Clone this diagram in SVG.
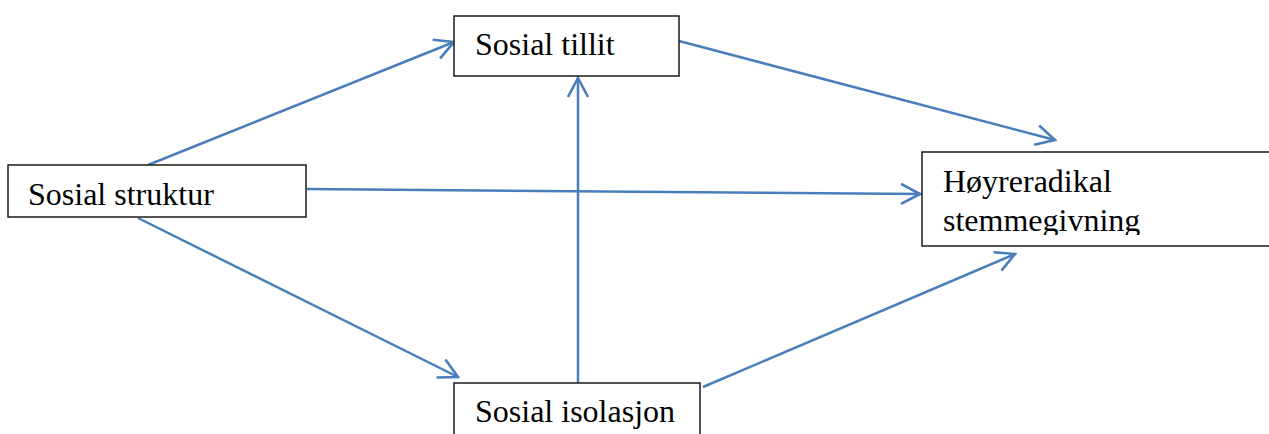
<svg xmlns="http://www.w3.org/2000/svg" width="1269" height="434" viewBox="0 0 1269 434">
<style>
.box{fill:#fff;stroke:#1a1a1a;stroke-width:1.5}
.lbl{font-family:"Liberation Serif","Times New Roman",serif;font-size:32px;fill:#000}
.conn{stroke:#4a7ebb;stroke-width:2.5;fill:none;marker-end:url(#ah)}
</style>
<defs>
<marker id="ah" markerUnits="userSpaceOnUse" viewBox="-22 -12 24 24" refX="0" refY="0" markerWidth="24" markerHeight="24" orient="auto">
<path d="M-19,-10 L0,0 L-19,10" fill="none" stroke="#4a7ebb" stroke-width="2.6"/>
</marker>
<clipPath id="hclip"><rect x="922" y="152" width="350" height="83"/></clipPath>
</defs>
<rect width="1269" height="434" fill="#fff"/>
<g id="connectors">
<line class="conn" x1="148" y1="165" x2="454" y2="42"/>
<line class="conn" x1="307" y1="189" x2="920" y2="194"/>
<line class="conn" x1="138" y1="218" x2="458" y2="377"/>
<line class="conn" x1="578" y1="383" x2="578" y2="78"/>
<line class="conn" x1="679" y1="41" x2="1055" y2="140"/>
<line class="conn" x1="703" y1="387" x2="1015" y2="254"/>
</g>
<g id="node-tillit">
<rect class="box" x="454" y="16" width="225" height="60"/>
<text class="lbl" x="475" y="55">Sosial tillit</text>
</g>
<g id="node-struktur">
<rect class="box" x="8" y="165" width="298" height="52"/>
<text class="lbl" x="28" y="205">Sosial struktur</text>
</g>
<g id="node-hoyre">
<rect class="box" x="922" y="152" width="360" height="94"/>
<g clip-path="url(#hclip)">
<text class="lbl" x="943" y="192">Høyreradikal</text>
<text class="lbl" x="943" y="231">stemmegivning</text>
</g>
</g>
<g id="node-isolasjon">
<rect class="box" x="454" y="383" width="246" height="60"/>
<text class="lbl" x="475" y="422">Sosial isolasjon</text>
</g>
</svg>
